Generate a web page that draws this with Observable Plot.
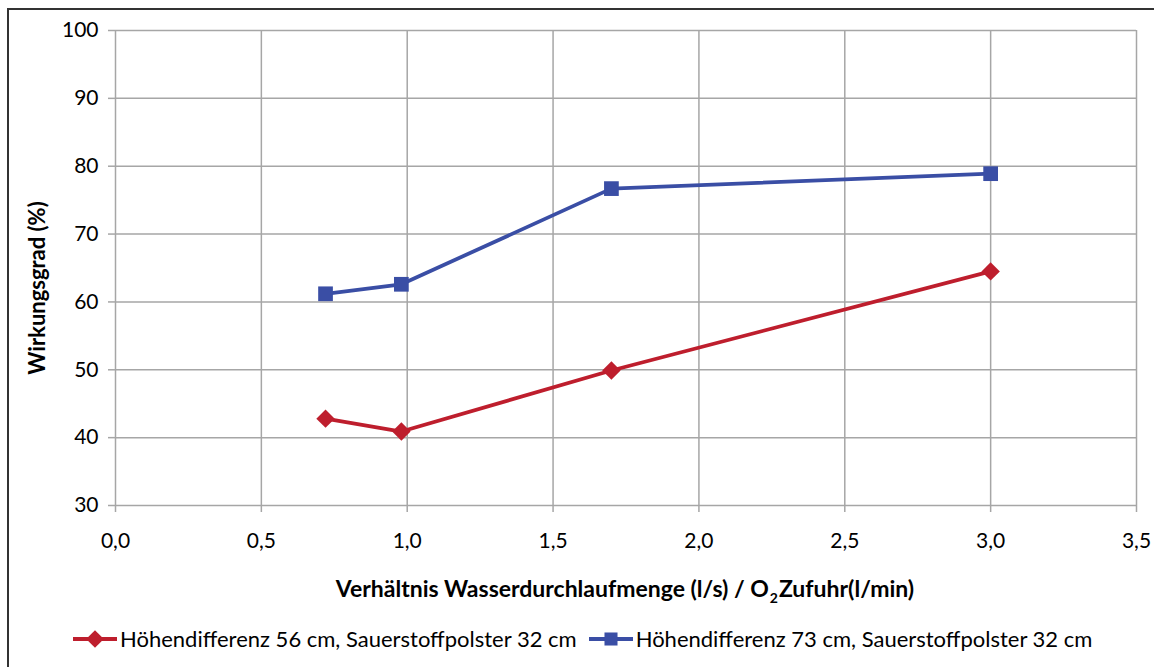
<!DOCTYPE html>
<html>
<head>
<meta charset="utf-8">
<script src="https://cdn.jsdelivr.net/npm/d3@7"></script>
<script src="https://cdn.jsdelivr.net/npm/@observablehq/plot@0.6"></script>
<style>
  html, body { margin: 0; padding: 0; background: #fff; }
  #wrap { position: relative; width: 1154px; height: 667px; overflow: hidden; font-family: Lato, "Open Sans", sans-serif; color: #000; }
  #frame { position: absolute; left: 7px; top: 8px; width: 1160px; height: 680px; border-left: 2px solid #333; border-top: 2px solid #333; box-sizing: border-box; }
  #chart { position: absolute; left: 0; top: 0; }
  #xlabel { position: absolute; top: 574px; left: 0; width: 1250px; text-align: center; font-weight: bold; font-size: 23px; white-space: nowrap; }
  #xlabel sub { font-size: 14px; margin-left: 1px; margin-right: 1px; }
  #legend { position: absolute; top: 625px; left: 73px; display: flex; align-items: center; font-size: 22px; white-space: nowrap; }
  .item { display: flex; align-items: center; margin-right: 12px; }
  .item svg { margin-right: 3px; }
</style>
</head>
<body>
<div id="wrap">
  <div id="frame"></div>
  <div id="chart"></div>
  <div id="xlabel">Verhältnis Wasserdurchlaufmenge (l/s) / O<sub>2</sub>Zufuhr(l/min)</div>
  <div id="legend"></div>
</div>
<script>
// Data
const seriesNames = [
  "Höhendifferenz 56 cm, Sauerstoffpolster 32 cm",
  "Höhendifferenz 73 cm, Sauerstoffpolster 32 cm"
];
const xValues = [0.72, 0.98, 1.70, 3.0];
const series56 = [42.8, 40.9, 49.9, 64.5];
const series73 = [61.2, 62.6, 76.7, 78.9];
const xTicks = [0, 0.5, 1.0, 1.5, 2.0, 2.5, 3.0, 3.5];
const yTicks = [30, 40, 50, 60, 70, 80, 90, 100];
const colors = ["#be1e2d", "#3a4ea5"];
const symbols = ["diamond2", "square"];
const yLabel = "Wirkungsgrad (%)";

const data = [
  ...xValues.map((x, i) => ({x, y: series56[i], s: seriesNames[0]})),
  ...xValues.map((x, i) => ({x, y: series73[i], s: seriesNames[1]}))
];

const fmt = d => d.toFixed(1).replace(".", ",");

const chart = Plot.plot({
  width: 1154,
  height: 560,
  marginLeft: 115,
  marginRight: 18,
  marginTop: 30,
  marginBottom: 55,
  style: {fontFamily: "Lato, 'Open Sans', sans-serif", fontSize: "21px", color: "#000", background: "transparent"},
  x: {domain: [0, 3.5], ticks: xTicks},
  y: {domain: [30, 100], ticks: yTicks},
  color: {domain: seriesNames, range: colors},
  symbol: {domain: seriesNames, range: symbols},
  marks: [
    Plot.gridX(xTicks, {stroke: "#a6a6a6", strokeOpacity: 1, strokeWidth: 1.5}),
    Plot.gridY(yTicks, {stroke: "#a6a6a6", strokeOpacity: 1, strokeWidth: 1.5}),
    Plot.axisX({ticks: xTicks, tickSize: 7, tickPadding: 21, stroke: "#a6a6a6", strokeWidth: 1.5, tickFormat: fmt, label: null, fontSize: 21}),
    Plot.axisY({ticks: yTicks, tickSize: 7, tickPadding: 10, stroke: "#a6a6a6", strokeWidth: 1.5, label: null, fontSize: 21}),
    Plot.line(data, {x: "x", y: "y", z: "s", stroke: "s", strokeWidth: 3.8}),
    Plot.dot(data, {x: "x", y: "y", symbol: "s", fill: "s", stroke: null, r: 8.3}),
    Plot.text([yLabel], {frameAnchor: "left", textAnchor: "middle", rotate: -90, dx: -78, dy: 20, fontWeight: "bold", fontSize: 22, fill: "#000"})
  ]
});
document.getElementById("chart").appendChild(chart);

// Legend
const legend = document.getElementById("legend");
seriesNames.forEach((name, i) => {
  const item = document.createElement("div");
  item.className = "item";
  const sw = d3.create("svg").attr("width", 44).attr("height", 20);
  sw.append("line").attr("x1", 0).attr("x2", 44).attr("y1", 10).attr("y2", 10)
    .attr("stroke", colors[i]).attr("stroke-width", 3.8);
  const sym = i === 0 ? d3.symbol(d3.symbolDiamond2, 200) : d3.symbol(d3.symbolSquare, 170);
  sw.append("path").attr("d", sym()).attr("transform", "translate(22,10)").attr("fill", colors[i]);
  item.appendChild(sw.node());
  const t = document.createElement("span");
  t.textContent = name;
  item.appendChild(t);
  legend.appendChild(item);
});
</script>
</body>
</html>
